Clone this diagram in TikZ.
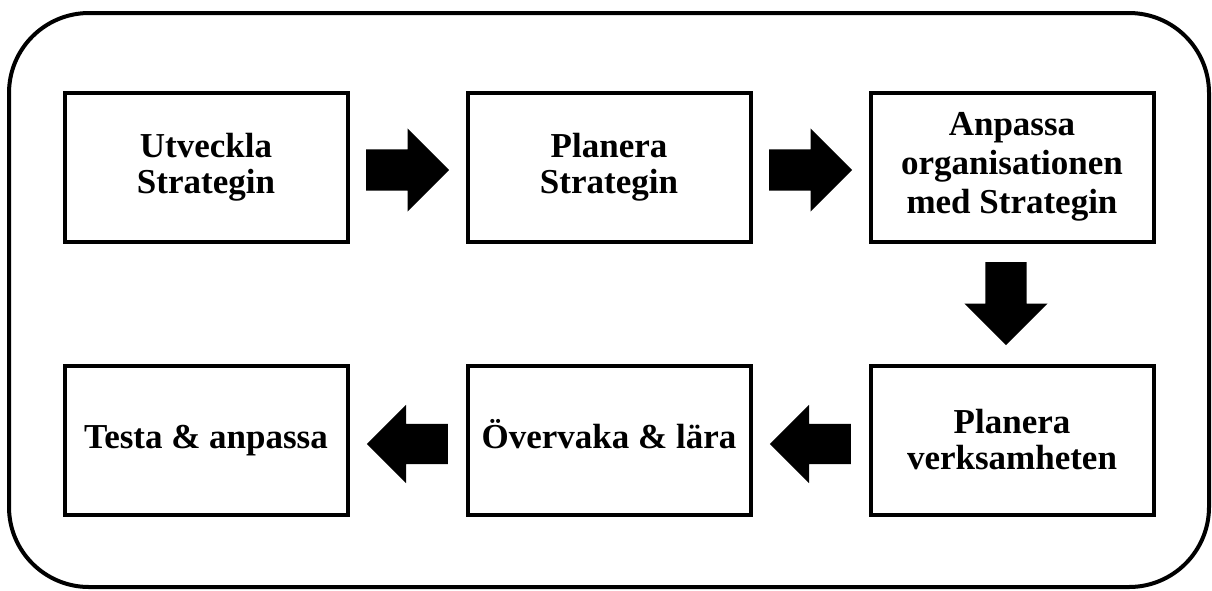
\documentclass[tikz,border=0pt]{standalone}
\usepackage{fontspec}
\setmainfont{Liberation Serif}
\usepackage{tikz}
\usetikzlibrary{shapes.arrows, positioning, calc}
\tikzstyle{stepbox} = [rectangle, minimum width=283pt, minimum height=149pt, line width=4pt, align=center, draw=black, font=\bfseries\fontsize{35}{36}\selectfont]
\tikzstyle{blockarrow} = [single arrow, anchor=tail, fill=black, draw=none, inner xsep=0pt, inner ysep=20.5pt, minimum height=83pt, single arrow head extend=21pt, single arrow tip angle=90]
\tikzstyle{backarrow} = [blockarrow, shape border rotate=180, inner ysep=20pt, minimum height=81pt, single arrow head extend=19pt]

\begin{document}
\begin{tikzpicture}[x=1pt, y=-1pt, node distance=120pt and 116pt]
  \useasboundingbox (0,0) rectangle (1212,590);
  \draw [line width=4pt, rounded corners=80pt] (9,13) rectangle (1209,587);

  \node (utv) [stepbox] at (206,167) {Utveckla\\Strategin};
  \node (plan) [stepbox, right=of utv] {Planera\\Strategin};
  \node (anp) [stepbox, right=of plan, font=\bfseries\fontsize{35}{39}\selectfont] {Anpassa\\organisationen\\med Strategin};
  \node (verk) [stepbox, below=of anp] {Planera\\verksamheten};
  \node (overv) [stepbox, left=of verk, text height=25pt, text depth=8pt] {Övervaka \& lära};
  \node (testa) [stepbox, left=of overv, text height=25pt, text depth=8pt] {Testa \& anpassa};

  % block arrows between the steps
  \node (a1) [blockarrow] at ($(utv.east)!0.5!(plan.west)+(-41.5,3)$) {};
  \node (a2) [blockarrow] at ($(plan.east)!0.5!(anp.west)+(-41.5,3)$) {};
  \node (a3) [blockarrow, shape border rotate=270, inner xsep=20.5pt, inner ysep=0pt] at ($(anp.south)!0.5!(verk.north)+(-6,-41.5)$) {};
  \node (a4) [backarrow] at ($(verk.west)!0.5!(overv.east)+(40.5,4)$) {};
  \node (a5) [backarrow] at ($(overv.west)!0.5!(testa.east)+(40.5,4)$) {};
\end{tikzpicture}
\end{document}
